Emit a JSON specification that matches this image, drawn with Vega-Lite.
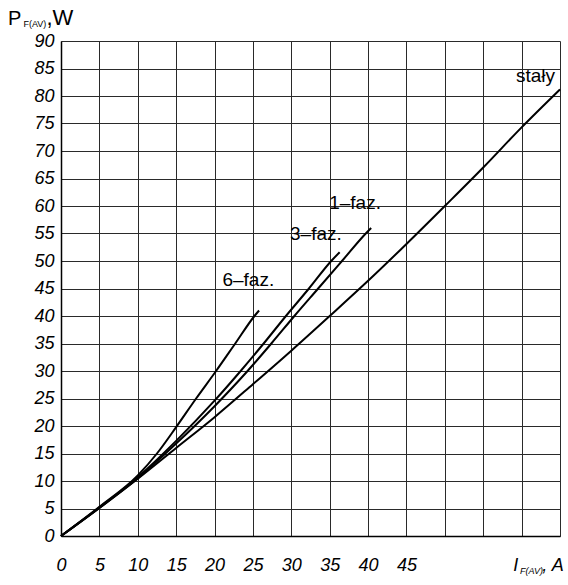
{
  "$schema": "https://vega.github.io/schema/vega-lite/v6.json",
  "width": 499,
  "height": 495,
  "autosize": "none",
  "padding": {"left": 61, "top": 41, "right": 8, "bottom": 49},
  "background": "white",
  "config": {
    "view": {"stroke": null},
    "font": "Liberation Sans",
    "text": {"font": "Liberation Sans", "color": "black"},
    "axis": {
      "grid": true,
      "gridColor": "#2a2a2a",
      "gridWidth": 1,
      "domainColor": "black",
      "domainWidth": 1.5,
      "ticks": false,
      "labelFont": "Liberation Sans",
      "labelFontStyle": "italic",
      "labelFontSize": 18,
      "labelColor": "black",
      "labelFlush": false,
      "title": null
    },
    "axisX": {
      "tickCount": 13,
      "labelPadding": 20,
      "labelExpr": "datum.value <= 45 ? datum.label : ''"
    },
    "axisY": {
      "tickCount": 18,
      "labelPadding": 7
    }
  },
  "datasets": {
    "krzywe": [
      {"I": 0, "P": 0, "seria": "stały"},
      {"I": 5, "P": 5.1, "seria": "stały"},
      {"I": 10, "P": 10.4, "seria": "stały"},
      {"I": 15, "P": 16.0, "seria": "stały"},
      {"I": 20, "P": 21.6, "seria": "stały"},
      {"I": 25, "P": 27.6, "seria": "stały"},
      {"I": 30, "P": 33.7, "seria": "stały"},
      {"I": 35, "P": 40.0, "seria": "stały"},
      {"I": 40, "P": 46.4, "seria": "stały"},
      {"I": 45, "P": 53.1, "seria": "stały"},
      {"I": 50, "P": 60.0, "seria": "stały"},
      {"I": 55, "P": 67.0, "seria": "stały"},
      {"I": 60, "P": 74.3, "seria": "stały"},
      {"I": 65, "P": 81.2, "seria": "stały"},
      {"I": 0, "P": 0, "seria": "1-faz"},
      {"I": 5, "P": 5.1, "seria": "1-faz"},
      {"I": 10, "P": 10.5, "seria": "1-faz"},
      {"I": 15, "P": 16.8, "seria": "1-faz"},
      {"I": 20, "P": 23.6, "seria": "1-faz"},
      {"I": 24.3, "P": 30, "seria": "1-faz"},
      {"I": 27.4, "P": 35, "seria": "1-faz"},
      {"I": 30.4, "P": 40, "seria": "1-faz"},
      {"I": 33.5, "P": 45, "seria": "1-faz"},
      {"I": 36.6, "P": 50, "seria": "1-faz"},
      {"I": 39.7, "P": 55, "seria": "1-faz"},
      {"I": 40.4, "P": 56, "seria": "1-faz"},
      {"I": 0, "P": 0, "seria": "3-faz"},
      {"I": 5, "P": 5.2, "seria": "3-faz"},
      {"I": 10, "P": 10.7, "seria": "3-faz"},
      {"I": 15, "P": 17.3, "seria": "3-faz"},
      {"I": 20, "P": 24.6, "seria": "3-faz"},
      {"I": 23.4, "P": 30, "seria": "3-faz"},
      {"I": 26.4, "P": 35, "seria": "3-faz"},
      {"I": 29.3, "P": 40, "seria": "3-faz"},
      {"I": 32.3, "P": 45, "seria": "3-faz"},
      {"I": 35.2, "P": 50, "seria": "3-faz"},
      {"I": 36.3, "P": 51.6, "seria": "3-faz"},
      {"I": 0, "P": 0, "seria": "6-faz"},
      {"I": 5, "P": 5.3, "seria": "6-faz"},
      {"I": 10, "P": 11.0, "seria": "6-faz"},
      {"I": 12.5, "P": 15, "seria": "6-faz"},
      {"I": 15, "P": 19.8, "seria": "6-faz"},
      {"I": 17.6, "P": 25, "seria": "6-faz"},
      {"I": 20.2, "P": 30, "seria": "6-faz"},
      {"I": 22.7, "P": 35, "seria": "6-faz"},
      {"I": 25.2, "P": 40, "seria": "6-faz"},
      {"I": 25.8, "P": 41, "seria": "6-faz"}
    ],
    "jeden": [{"n": 1}]
  },
  "layer": [
    {
      "data": {"name": "krzywe"},
      "mark": {"type": "line", "color": "black", "strokeWidth": 2, "interpolate": "monotone"},
      "encoding": {
        "x": {
          "field": "I",
          "type": "quantitative",
          "scale": {"domain": [0, 65], "nice": false, "zero": false}
        },
        "y": {
          "field": "P",
          "type": "quantitative",
          "scale": {"domain": [0, 90], "nice": false}
        },
        "detail": {"field": "seria"}
      }
    },
    {
      "data": {"name": "jeden"},
      "mark": {"type": "text", "text": "stały", "fontSize": 19, "align": "center", "baseline": "middle"},
      "encoding": {"x": {"datum": 61.8, "type": "quantitative"}, "y": {"datum": 83.6, "type": "quantitative"}}
    },
    {
      "data": {"name": "jeden"},
      "mark": {"type": "text", "text": "1–faz.", "fontSize": 19, "align": "center", "baseline": "middle"},
      "encoding": {"x": {"datum": 38.3, "type": "quantitative"}, "y": {"datum": 60.5, "type": "quantitative"}}
    },
    {
      "data": {"name": "jeden"},
      "mark": {"type": "text", "text": "3–faz.", "fontSize": 19, "align": "center", "baseline": "middle"},
      "encoding": {"x": {"datum": 33.2, "type": "quantitative"}, "y": {"datum": 54.9, "type": "quantitative"}}
    },
    {
      "data": {"name": "jeden"},
      "mark": {"type": "text", "text": "6–faz.", "fontSize": 19, "align": "center", "baseline": "middle"},
      "encoding": {"x": {"datum": 24.4, "type": "quantitative"}, "y": {"datum": 46.5, "type": "quantitative"}}
    },
    {
      "data": {"name": "jeden"},
      "mark": {"type": "text", "text": "P", "fontSize": 20, "align": "left", "baseline": "alphabetic"},
      "encoding": {"x": {"datum": -6.9, "type": "quantitative"}, "y": {"datum": 92.9, "type": "quantitative"}}
    },
    {
      "data": {"name": "jeden"},
      "mark": {"type": "text", "text": "F(AV)", "fontSize": 9, "align": "left", "baseline": "alphabetic"},
      "encoding": {"x": {"datum": -4.9, "type": "quantitative"}, "y": {"datum": 92.5, "type": "quantitative"}}
    },
    {
      "data": {"name": "jeden"},
      "mark": {"type": "text", "text": ",W", "fontSize": 22, "align": "left", "baseline": "alphabetic"},
      "encoding": {"x": {"datum": -1.9, "type": "quantitative"}, "y": {"datum": 92.9, "type": "quantitative"}}
    },
    {
      "data": {"name": "jeden"},
      "mark": {"type": "text", "text": "I", "fontSize": 18, "fontStyle": "italic", "align": "left", "baseline": "alphabetic"},
      "encoding": {"x": {"datum": 58.9, "type": "quantitative"}, "y": {"datum": -6.4, "type": "quantitative"}}
    },
    {
      "data": {"name": "jeden"},
      "mark": {"type": "text", "text": "F(AV)", "fontSize": 9, "fontStyle": "italic", "align": "left", "baseline": "alphabetic"},
      "encoding": {"x": {"datum": 59.8, "type": "quantitative"}, "y": {"datum": -6.9, "type": "quantitative"}}
    },
    {
      "data": {"name": "jeden"},
      "mark": {"type": "text", "text": ", A", "fontSize": 18, "fontStyle": "italic", "align": "left", "baseline": "alphabetic"},
      "encoding": {"x": {"datum": 62.7, "type": "quantitative"}, "y": {"datum": -6.4, "type": "quantitative"}}
    }
  ]
}
